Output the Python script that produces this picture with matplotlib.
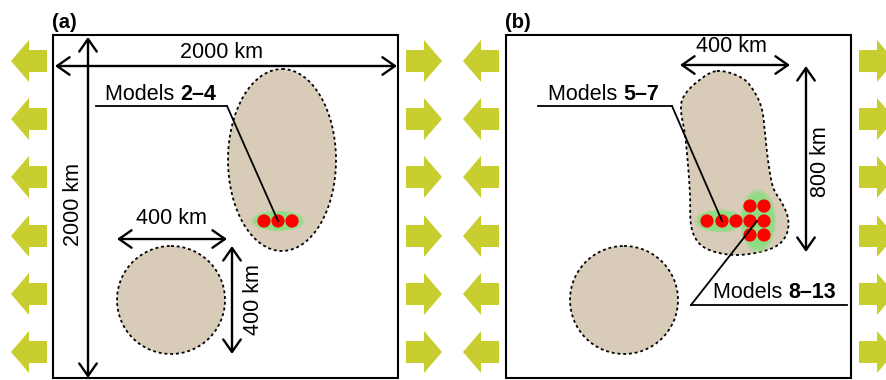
import numpy as np
import matplotlib.pyplot as plt
from matplotlib.patches import Polygon, Ellipse, Circle, Rectangle

plt.rcParams['font.family'] = ['Liberation Sans', 'DejaVu Sans']

W, H = 886, 380

# panel boxes (x0, x1), pixel units
panel_x = [(53, 398), (506, 851)]
box_top, box_bot = 35, 378
panel_labels = ['(a)', '(b)']

# extension arrows: rows and tip positions
arrow_rows = [61, 119, 177, 236, 294, 352]
left_tips = [11, 463]
right_tips = [442, 895]

# weak zones
ellipse_a = (282, 160, 108, 182)
circles = [(171, 300, 54), (624, 300, 54)]
blob_b = np.array([
    (717, 71), (742, 78), (755, 93), (762, 110), (765, 133), (768, 160),
    (773, 187), (782, 203), (788, 218), (787, 233), (778, 245), (760, 252),
    (735, 255), (712, 251), (698, 242), (691, 225), (690, 195), (688, 165),
    (685, 135), (681, 110), (684, 96), (697, 82),
])

# model seeds
green_a = [(278, 221, 49, 19)]
dots_a = [(264, 221), (278, 221), (292, 221)]
green_b = [(720, 221, 46, 21), (758, 221, 33, 58)]
dots_b = [(707, 221), (722, 221), (736, 221), (750, 221), (764, 221),
          (750, 206), (764, 206), (750, 235), (764, 235)]

# labels with leaders: plain text, bold text, text pos, underline (x0, x1, y),
# end of underline the leader leaves from, target
leaders = [
    ('Models ', '2–4', (105, 95), (96, 227, 106), 'right', (278, 221)),
    ('Models ', '5–7', (548, 95), (538, 672, 106), 'right', (722, 221)),
    ('Models ', '8–13', (713, 292), (691, 847, 305), 'left', (757, 221)),
]

# dimension arrows: start, end, text, text pos, rotation
dims = [
    ((55, 66), (397, 66), '2000 km', (222, 52), 0),
    ((88, 378), (88, 37), '2000 km', (74, 205), 90),
    ((117, 239), (227, 239), '400 km', (171, 219), 0),
    ((232, 246), (232, 354), '400 km', (254, 300), 90),
    ((680, 65), (790, 65), '400 km', (731, 47), 0),
    ((806, 66), (806, 252), '800 km', (821, 162), 90),
]

beige = '#d8ccb9'
lime = '#c8cd30'
light_green = '#8edc84'
fs = 15.5


def ext_arrow(tip, yc, direction):
    # direction -1 points left, +1 points right
    head, total, hh, bh = 18, 36, 21, 11
    pts = [(0, 0), (head, hh), (head, bh), (total, bh),
           (total, -bh), (head, -bh), (head, -hh)]
    return [(tip - direction * dx, yc + dy) for dx, dy in pts]


def catmull(pts, n=12):
    out = []
    m = len(pts)
    for i in range(m):
        p0, p1, p2, p3 = pts[i - 1], pts[i], pts[(i + 1) % m], pts[(i + 2) % m]
        for t in np.linspace(0, 1, n, endpoint=False):
            t2, t3 = t * t, t * t * t
            out.append(0.5 * (2 * p1 + (-p0 + p2) * t + (2 * p0 - 5 * p1 + 4 * p2 - p3) * t2
                              + (-p0 + 3 * p1 - 3 * p2 + p3) * t3))
    return np.array(out)


fig = plt.figure(figsize=(W / 100, H / 100), dpi=100)
ax = fig.add_axes([0, 0, 1, 1])
ax.set_xlim(0, W)
ax.set_ylim(H, 0)
ax.axis('off')

for (x0, x1), lab in zip(panel_x, panel_labels):
    ax.add_patch(Rectangle((x0, box_top), x1 - x0, box_bot - box_top,
                           fill=False, ec='black', lw=1.5, zorder=2))
    ax.text(x0 - 1, box_top - 3, lab, fontsize=14.5, fontweight='bold',
            ha='left', va='bottom')

for yc in arrow_rows:
    for t in left_tips:
        ax.add_patch(Polygon(ext_arrow(t, yc, -1), closed=True, fc=lime, ec='none'))
    for t in right_tips:
        ax.add_patch(Polygon(ext_arrow(t, yc, 1), closed=True, fc=lime, ec='none'))

dash = (0, (1.6, 1.6))
cx, cy, ew, eh = ellipse_a
ax.add_patch(Ellipse((cx, cy), ew, eh, fc=beige, ec='black', lw=1.3, ls=dash, zorder=3))
for x, y, r in circles:
    ax.add_patch(Circle((x, y), r, fc=beige, ec='black', lw=1.3, ls=dash, zorder=3))
ax.add_patch(Polygon(catmull(blob_b.astype(float)), closed=True, fc=beige,
                     ec='black', lw=1.3, ls=dash, zorder=3))

for x, y, w, h in green_a + green_b:
    for k, a in zip([1.1, 1.0, 0.88], [0.45, 0.8, 1.0]):
        ax.add_patch(Ellipse((x, y), w * k, h * k, fc=light_green, ec='none',
                             alpha=a, zorder=4))

for x, y in dots_a + dots_b:
    ax.add_patch(Circle((x, y), 6.6, fc='#ff0000', ec='none', zorder=5))

fig.canvas.draw()
for plain, bold, (tx, ty), (ux0, ux1, uy), side, (px, py) in leaders:
    t = ax.text(tx, ty, plain, fontsize=fs, ha='left', va='center', zorder=6)
    bb = t.get_window_extent(renderer=fig.canvas.get_renderer())
    ax.text(tx + bb.width, ty, bold, fontsize=fs, fontweight='bold',
            ha='left', va='center', zorder=6)
    ax.plot([ux0, ux1], [uy, uy], color='black', lw=1.3, zorder=6)
    ux = ux1 if side == 'right' else ux0
    ax.plot([ux, px], [uy, py], color='black', lw=1.3, zorder=6)

for (x0, y0), (x1, y1), txt, (tx, ty), rot in dims:
    ax.annotate('', xy=(x1, y1), xytext=(x0, y0),
                arrowprops=dict(arrowstyle='<->,head_length=0.5,head_width=0.35',
                                lw=1.7, color='black', mutation_scale=18,
                                shrinkA=0, shrinkB=0), zorder=7)
    ax.text(tx, ty, txt, fontsize=fs, ha='center', va='center', rotation=rot, zorder=7)

fig.savefig('out.png', dpi=100)
